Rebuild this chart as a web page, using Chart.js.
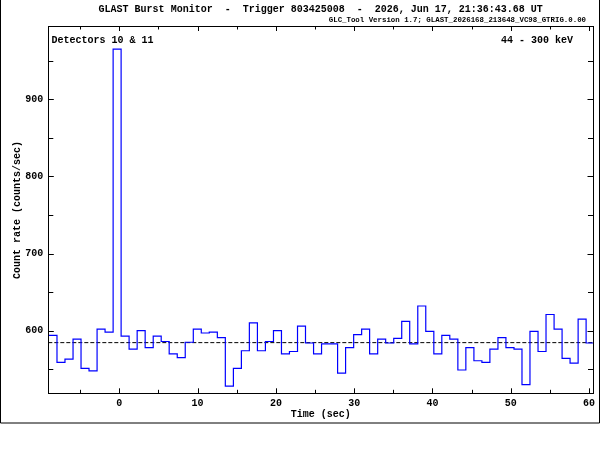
<!DOCTYPE html>
<html>
<head>
<meta charset="utf-8">
<script src="https://cdn.jsdelivr.net/npm/chart.js@4.4.0/dist/chart.umd.min.js"></script>
<style>
  html, body { margin: 0; padding: 0; background: #ffffff; }
  #wrap { width: 600px; height: 450px; position: relative; }
</style>
</head>
<body>
<div id="wrap"><canvas id="c" width="600" height="450"></canvas></div>
<script>
// ---- data ----
const binStarts = [
  -8.99, -7.96, -6.94, -5.91, -4.89, -3.87, -2.84, -1.82, -0.79, 0.23,
  1.25, 2.28, 3.30, 4.33, 5.35, 6.37, 7.40, 8.42, 9.45, 10.47,
  11.49, 12.52, 13.54, 14.57, 15.59, 16.61, 17.64, 18.66, 19.69, 20.71,
  21.73, 22.76, 23.78, 24.81, 25.83, 26.85, 27.88, 28.90, 29.93, 30.95,
  31.97, 33.00, 34.02, 35.05, 36.07, 37.09, 38.12, 39.14, 40.17, 41.19,
  42.21, 43.24, 44.26, 45.29, 46.31, 47.33, 48.36, 49.38, 50.41, 51.43,
  52.45, 53.48, 54.50, 55.53, 56.55, 57.57, 58.60, 59.62
];
const lastBinEnd = 60.65;
const countRates = [
  594, 559, 563, 589, 551, 548, 602, 598, 965, 593,
  576, 600, 578, 593, 586, 570, 565, 585, 602, 597,
  598, 591, 528, 551, 574, 610, 574, 586, 600, 570,
  573, 606, 584, 570, 583, 583, 545, 578, 595, 602,
  570, 589, 584, 590, 612, 583, 632, 599, 570, 594,
  589, 549, 578, 561, 559, 576, 591, 578, 576, 530,
  599, 573, 621, 602, 564, 558, 615, 584
];
const backgroundLevel = 584.5;
const xRange = [-9.07, 60.5];
const yRange = [518.8, 995.1];
const xMajorTicks = [0, 10, 20, 30, 40, 50, 60];
const xMinorTicks = [-5, 5, 15, 25, 35, 45, 55];
const yMajorTicks = [600, 700, 800, 900];
const yMinorTicks = [550, 650, 750, 850, 950];

const titleText = 'GLAST Burst Monitor  -  Trigger 803425008  -  2026, Jun 17, 21:36:43.68 UT';
const subtitleText = 'GLC_Tool Version 1.7; GLAST_2026168_213648_VC98_GTRIG.0.00';
const detectorText = 'Detectors 10 & 11';
const energyText = '44 - 300 keV';
const xTitle = 'Time (sec)';
const yTitle = 'Count rate (counts/sec)';

// ---- build datasets ----
const stepPoints = binStarts.map((t, i) => ({ x: t, y: countRates[i] }));
stepPoints.push({ x: lastBinEnd, y: countRates[countRates.length - 1] });
const bgPoints = [{ x: xRange[0], y: backgroundLevel }, { x: xRange[1], y: backgroundLevel }];

const FONT = '"Liberation Mono", "DejaVu Sans Mono", monospace';

const decor = {
  id: 'decor',
  afterDraw(chart) {
    const ctx = chart.ctx;
    const a = chart.chartArea;
    const xs = chart.scales.x, ys = chart.scales.y;
    ctx.save();
    ctx.strokeStyle = '#000';
    ctx.lineWidth = 1;
    // plot box
    ctx.strokeRect(Math.round(a.left) + 0.5, Math.round(a.top) + 0.5,
                   Math.round(a.right - a.left), Math.round(a.bottom - a.top));
    // ticks
    ctx.beginPath();
    const xt = (v, len) => {
      const px = Math.round(xs.getPixelForValue(v)) + 0.5;
      ctx.moveTo(px, a.bottom); ctx.lineTo(px, a.bottom - len);
      ctx.moveTo(px, a.top); ctx.lineTo(px, a.top + len);
    };
    const yt = (v, len) => {
      const py = Math.round(ys.getPixelForValue(v)) + 0.5;
      ctx.moveTo(a.left, py); ctx.lineTo(a.left + len, py);
      ctx.moveTo(a.right, py); ctx.lineTo(a.right - len, py);
    };
    xMajorTicks.forEach(v => xt(v, 5));
    xMinorTicks.forEach(v => xt(v, 3.5));
    yMajorTicks.forEach(v => yt(v, 5.5));
    yMinorTicks.forEach(v => yt(v, 5));
    ctx.stroke();
    // outer frame (left, right, bottom)
    ctx.beginPath();
    ctx.moveTo(0.5, 0); ctx.lineTo(0.5, 423);
    ctx.lineTo(599.5, 423); ctx.lineTo(599.5, 0);
    ctx.stroke();
    // texts
    ctx.fillStyle = '#000';
    ctx.textBaseline = 'middle';
    const cx = (a.left + a.right) / 2;
    ctx.font = 'bold 10px ' + FONT;
    ctx.textAlign = 'center';
    ctx.fillText(titleText, cx, 9.5);
    ctx.font = 'bold 7.4px ' + FONT;
    ctx.textAlign = 'right';
    ctx.fillText(subtitleText, 586, 20);
    ctx.font = 'bold 10px ' + FONT;
    ctx.textAlign = 'left';
    ctx.fillText(detectorText, 51.5, 40);
    ctx.textAlign = 'right';
    ctx.fillText(energyText, 573, 40);
    ctx.textAlign = 'center';
    ctx.fillText(xTitle, cx, 414);
    ctx.save();
    ctx.translate(17, 210);
    ctx.rotate(-Math.PI / 2);
    ctx.fillText(yTitle, 0, 0);
    ctx.restore();
    ctx.restore();
  }
};

new Chart(document.getElementById('c'), {
  type: 'line',
  data: {
    datasets: [
      {
        data: stepPoints,
        stepped: 'before',
        borderColor: '#0000ff',
        borderWidth: 1.2,
        pointRadius: 0,
        fill: false
      },
      {
        data: bgPoints,
        borderColor: '#000000',
        borderWidth: 1,
        borderDash: [4, 2],
        pointRadius: 0,
        fill: false
      }
    ]
  },
  options: {
    responsive: false,
    animation: false,
    devicePixelRatio: 1,
    layout: { padding: { left: 0, top: 26, right: 7, bottom: 26.7 } },
    plugins: { legend: { display: false }, tooltip: { enabled: false } },
    scales: {
      x: {
        type: 'linear',
        min: xRange[0], max: xRange[1],
        grid: { display: false, drawTicks: false },
        border: { display: false },
        afterBuildTicks: s => { s.ticks = xMajorTicks.map(v => ({ value: v })); },
        afterFit: s => { s.height = 30; },
        ticks: {
          autoSkip: false, maxRotation: 0, padding: 4,
          color: '#000', font: { family: FONT, size: 10, weight: 'bold' }
        }
      },
      y: {
        type: 'linear',
        min: yRange[0], max: yRange[1],
        grid: { display: false, drawTicks: false },
        border: { display: false },
        afterBuildTicks: s => { s.ticks = yMajorTicks.map(v => ({ value: v })); },
        afterFit: s => { s.width = 48.3; },
        ticks: {
          autoSkip: false, padding: 5,
          color: '#000', font: { family: FONT, size: 10, weight: 'bold' }
        }
      }
    }
  },
  plugins: [decor]
});
</script>
</body>
</html>
